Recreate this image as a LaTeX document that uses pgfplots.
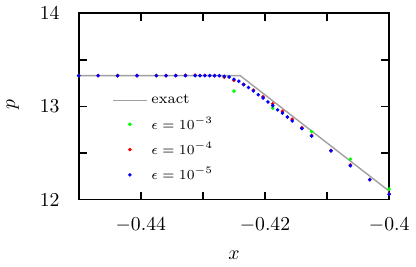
\documentclass[border=0pt]{standalone}
\usepackage{pgfplots}
\pgfplotsset{compat=1.18}
\begin{document}
\begin{tikzpicture}
\begin{axis}[
  scale only axis,
  width=157.5pt, height=94.5pt,
  xmin=-0.45, xmax=-0.40, ymin=12, ymax=14,
  xtick={-0.45,-0.44,-0.43,-0.42,-0.41,-0.40},
  xticklabels={,$-0.44$,,$-0.42$,,$-0.4$},
  ytick={12,12.5,13,13.5,14},
  yticklabels={12,,13,,14},
  y tick label style={anchor=east, xshift=-6.2pt},
  x tick label style={anchor=north, yshift=-5.5pt},
  tick align=inside, major tick length=4pt,
  tick style={line width=0.8pt, black},
  axis line style={line width=0.9pt},
  xlabel={$x$}, ylabel={$p$},
  every axis x label/.style={at={(rel axis cs:0.5,0)}, yshift=-28.5pt, anchor=center},
  every axis y label/.style={at={(rel axis cs:0,0.5)}, xshift=-33.5pt, yshift=1pt, rotate=90, anchor=center},
  legend style={draw=none, fill=none, font=\fontsize{7.4}{8.5}\selectfont, at={(0.088,0.607)}, anchor=north west, row sep=1pt},
  legend cell align=left,
]
\addplot[gray!75, line width=0.7pt] coordinates {(-0.45,13.33) (-0.424,13.33) (-0.40,12.09)};
\addlegendentry{exact}
\addplot[only marks, mark=*, mark size=0.7pt, color=green, draw=none] coordinates {
(-0.45,13.33) (-0.44375,13.33) (-0.4375,13.33) (-0.43125,13.33) (-0.425,13.164)
(-0.41875,12.981) (-0.4125,12.730) (-0.40625,12.434) (-0.40,12.113)};
\addlegendentry{$\epsilon=10^{-3}$}
\addplot[only marks, mark=*, mark size=0.7pt, color=red, draw=none] coordinates {
(-0.45,13.33) (-0.446875,13.33) (-0.44375,13.33) (-0.440625,13.33) (-0.4375,13.33)
(-0.4359375,13.33) (-0.434375,13.332) (-0.4328125,13.334) (-0.43125,13.335) (-0.4296875,13.333)
(-0.428125,13.33) (-0.4265625,13.314) (-0.425,13.28) (-0.4234375,13.235) (-0.421875,13.175)
(-0.4203125,13.103) (-0.41875,13.028) (-0.4171875,12.947) (-0.415625,12.862) (-0.4140625,12.772)
(-0.4125,12.688) (-0.409375,12.527) (-0.40625,12.37) (-0.403125,12.214) (-0.4,12.058)};
\addlegendentry{$\epsilon=10^{-4}$}
\addplot[only marks, mark=*, mark size=0.7pt, color=blue, draw=none] coordinates {
(-0.45,13.33) (-0.446875,13.33) (-0.44375,13.33) (-0.440625,13.33) (-0.4375,13.33)
(-0.4359375,13.33) (-0.434375,13.33) (-0.4328125,13.33) (-0.43125,13.33) (-0.4304688,13.33)
(-0.4296875,13.33) (-0.4289063,13.33) (-0.428125,13.33) (-0.4273438,13.329) (-0.4265625,13.323)
(-0.4257813,13.315) (-0.425,13.291) (-0.4242188,13.270) (-0.4234375,13.235) (-0.4226563,13.203)
(-0.421875,13.167) (-0.4210938,13.125) (-0.4203125,13.090) (-0.4195313,13.048) (-0.41875,13.008)
(-0.4179688,12.963) (-0.4171875,12.928) (-0.4164063,12.886) (-0.415625,12.844) (-0.4140625,12.762)
(-0.4125,12.681) (-0.409375,12.522) (-0.40625,12.363) (-0.403125,12.212) (-0.4,12.056)};
\addlegendentry{$\epsilon=10^{-5}$}
\end{axis}
\end{tikzpicture}
\end{document}
